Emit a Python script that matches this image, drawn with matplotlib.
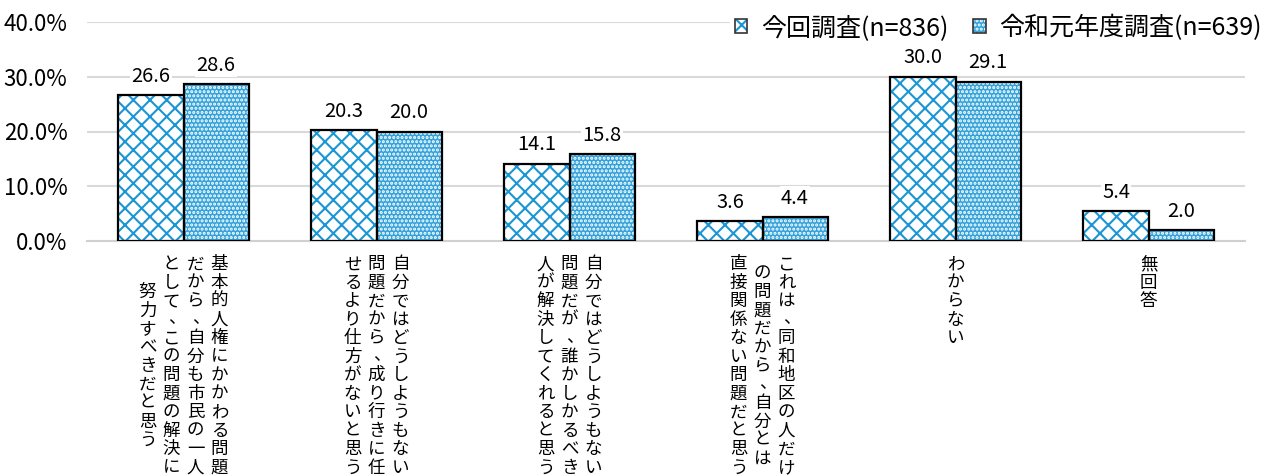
import matplotlib
matplotlib.use("Agg")
import matplotlib.pyplot as plt
from matplotlib.patches import Patch
from matplotlib.legend_handler import HandlerTuple
from matplotlib.ticker import FuncFormatter

# ----------------------
# データ
# ----------------------
categories = [
    ["基本的人権にかかわる問題", "だから、自分も市民の一人", "として、この問題の解決に", "努力すべきだと思う"],
    ["自分ではどうしようもない", "問題だから、成り行きに任", "せるより仕方がないと思う"],
    ["自分ではどうしようもない", "問題だが、誰かしかるべき", "人が解決してくれると思う"],
    ["これは、同和地区の人だけ", "の問題だから、自分とは", "直接関係ない問題だと思う"],
    ["わからない"],
    ["無回答"],
]
series_names = ["今回調査(n=836)", "令和元年度調査(n=639)"]
current = [26.6, 20.3, 14.1, 3.6, 30.0, 5.4]
previous = [28.6, 20.0, 15.8, 4.4, 29.1, 2.0]
yticks = [0, 10, 20, 30, 40]

BLUE = "#1a96d4"
DOTS = "#34a2da"
JP_FONT = ["Noto Sans CJK JP", "DejaVu Sans"]

plt.rcParams["font.family"] = JP_FONT
plt.rcParams["hatch.linewidth"] = 1.5

fig = plt.figure(figsize=(12.73, 4.76), dpi=100)
ax = fig.add_axes([87 / 1273, 1 - 241 / 476, (1245 - 87) / 1273, (241 - 22) / 476])

x = list(range(len(categories)))
w = 0.337
x1 = [i - w / 2 for i in x]
x2 = [i + w / 2 for i in x]

# 模様 → 黒枠 の順で重ねる
ax.bar(x1, current, w, color="white", edgecolor=BLUE, hatch="xx", linewidth=0, zorder=2)
ax.bar(x2, previous, w, color=DOTS, edgecolor="white", hatch="....", linewidth=0, zorder=2)
ax.bar(x1, current, w, color="none", edgecolor="black", linewidth=1.6, zorder=3)
ax.bar(x2, previous, w, color="none", edgecolor="black", linewidth=1.6, zorder=3)

for xs, vals in [(x1, current), (x2, previous)]:
    for xi, v in zip(xs, vals):
        ax.annotate(f"{v:.1f}", xy=(xi, v), xytext=(0, 6), textcoords="offset points",
                    ha="center", va="bottom", fontsize=14.5,
                    bbox=dict(facecolor="white", edgecolor="none", pad=1), zorder=4)

ax.set_xlim(-0.5, len(categories) - 0.5)
ax.set_ylim(0, 40)
ax.set_yticks(yticks)
ax.yaxis.set_major_formatter(FuncFormatter(lambda v, p: f"{v:.1f}%"))
ax.tick_params(axis="y", length=0, pad=14, labelsize=16)
ax.tick_params(axis="x", length=0, labelbottom=False)
ax.grid(axis="y", color="#d9d9d9", linewidth=1.5, zorder=0)
ax.set_axisbelow(True)
for s in ["top", "right", "left"]:
    ax.spines[s].set_visible(False)
ax.spines["bottom"].set_color("#d0d0d0")
ax.spines["bottom"].set_linewidth(1.5)

# 縦書きラベル（右の行から左へ、各行は上から下）
px = 0.72  # 1px in points
em = 18.5
line_gap = 24
for i, lines in enumerate(categories):
    n = len(lines)
    longest = max(len(l) for l in lines)
    for j, line in enumerate(lines):
        dx = ((n - 1) / 2 - j) * line_gap
        top = 14 + (longest - len(line)) / 2 * em
        for k, ch in enumerate(line):
            cx, cy = dx, -(top + em * (k + 0.5))
            if ch in "、。":
                cx += em * 0.28
                cy += em * 0.08
            ax.annotate(ch, xy=(i, 0), xycoords=("data", "axes fraction"),
                        xytext=(cx * px, cy * px), textcoords="offset points",
                        ha="center", va="center", fontsize=12.6, annotation_clip=False)

h1 = (Patch(facecolor="white", edgecolor=BLUE, hatch="xx", linewidth=0),
      Patch(facecolor="none", edgecolor="#333333", linewidth=1.2))
h2 = (Patch(facecolor=DOTS, edgecolor="white", hatch="....", linewidth=0),
      Patch(facecolor="none", edgecolor="#333333", linewidth=1.2))
fig.legend([h1, h2], series_names, handler_map={tuple: HandlerTuple(ndivide=1)},
           loc="center right", bbox_to_anchor=(1267 / 1273, 1 - 28 / 476),
           bbox_transform=fig.transFigure, fontsize=18, frameon=True,
           facecolor="white", edgecolor="none", framealpha=1, ncol=2,
           handlelength=0.5, handleheight=0.5, handletextpad=0.55,
           columnspacing=1.0, borderpad=0.2, borderaxespad=0)

fig.savefig("out.png", dpi=100)
